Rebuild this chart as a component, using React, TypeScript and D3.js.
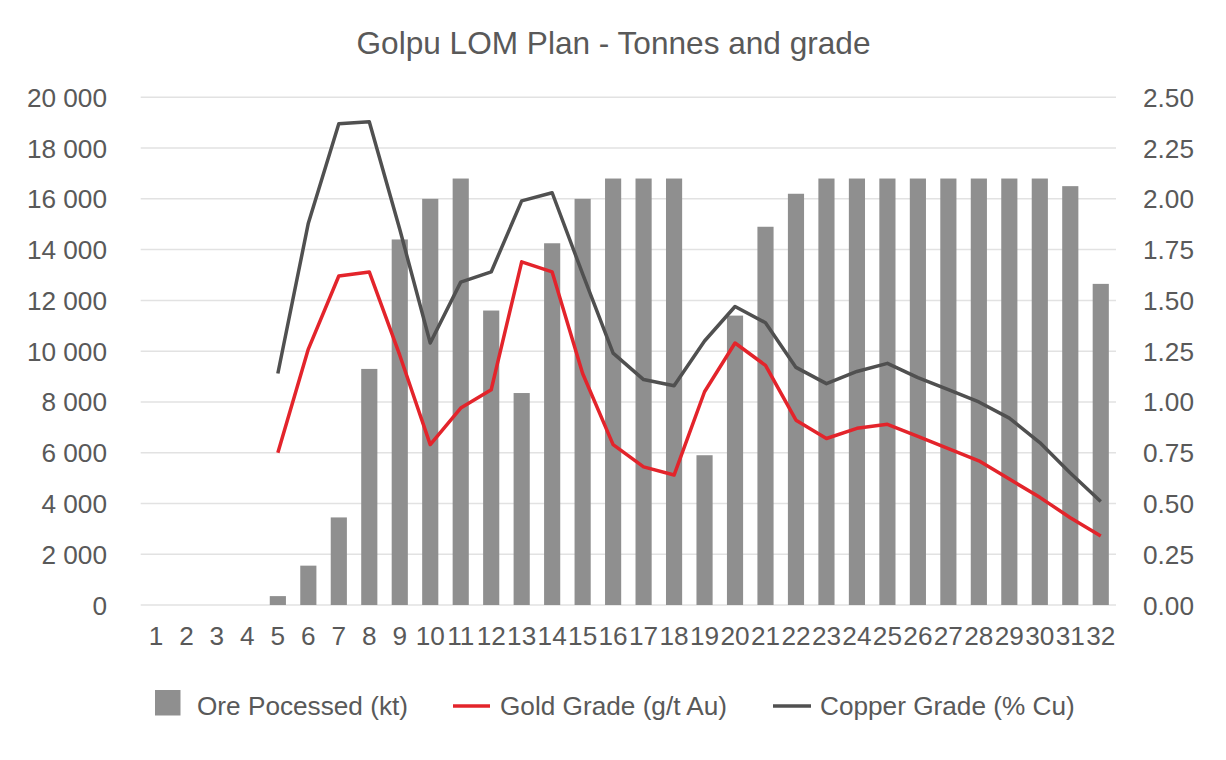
import React from "react";
import * as d3 from "d3";

const categories = Array.from({ length: 32 }, (_, i) => String(i + 1));
const ore = [0, 0, 0, 0, 350, 1550, 3450, 9300, 14400, 16000, 16800, 11600, 8350, 14250, 16000, 16800, 16800, 16800, 5900, 11400, 14900, 16200, 16800, 16800, 16800, 16800, 16800, 16800, 16800, 16800, 16500, 12650];
const gold: (number | null)[] = [null, null, null, null, 0.75, 1.26, 1.62, 1.64, 1.23, 0.79, 0.97, 1.06, 1.69, 1.64, 1.14, 0.79, 0.68, 0.64, 1.05, 1.29, 1.18, 0.91, 0.82, 0.87, 0.89, 0.83, 0.77, 0.71, 0.62, 0.53, 0.43, 0.34];
const copper: (number | null)[] = [null, null, null, null, 1.14, 1.88, 2.37, 2.38, 1.85, 1.29, 1.59, 1.64, 1.99, 2.03, 1.63, 1.24, 1.11, 1.08, 1.30, 1.47, 1.39, 1.17, 1.09, 1.15, 1.19, 1.12, 1.06, 1.00, 0.92, 0.80, 0.65, 0.51];
const leftTicks = [0, 2000, 4000, 6000, 8000, 10000, 12000, 14000, 16000, 18000, 20000];
const rightTicks = [0, 0.25, 0.5, 0.75, 1.0, 1.25, 1.5, 1.75, 2.0, 2.25, 2.5];
const title = "Golpu LOM Plan - Tonnes and grade";
const seriesNames = ["Ore Pocessed (kt)", "Gold Grade (g/t Au)", "Copper Grade (% Cu)"];

const W = 1226, H = 760;
const left = 140.7, right = 1116, top = 97.3, bottom = 605;
const TXT = "#595959";
const BAR = "#8f8f8f";
const RED = "#e3242b";
const DARK = "#505050";
const FONT = "'Liberation Sans', Arial, sans-serif";
const FS = 26.2;

export default function App() {
  const x = d3.scaleBand<string>().domain(categories).range([left, right]).paddingInner(0.47).paddingOuter(0.235);
  const yL = d3.scaleLinear().domain([0, 20000]).range([bottom, top]);
  const yR = d3.scaleLinear().domain([0, 2.5]).range([bottom, top]);
  const cx = (i: number) => (x(categories[i]) as number) + x.bandwidth() / 2;
  const fmtL = (v: number) => d3.format(",")(v).replace(/,/g, " ");
  const line = d3.line<number | null>()
    .defined((d) => d != null)
    .x((_, i) => cx(i))
    .y((d) => yR(d as number));

  return (
    <div style={{ position: "absolute", left: 0, top: 0 }}>
      <svg width={W} height={H} style={{ display: "block", background: "#fff" }} fontFamily={FONT}>
        <rect width={W} height={H} fill="#fff" />
        <text x={613.5} y={54} textAnchor="middle" fontSize={31.6} fill={TXT}>{title}</text>
        {leftTicks.map((t) => (
          <line key={"g" + t} x1={left} x2={right} y1={yL(t)} y2={yL(t)} stroke="#e2e2e2" strokeWidth={1.5} />
        ))}
        {leftTicks.map((t) => (
          <text key={"l" + t} x={107} y={yL(t) + 9.5} textAnchor="end" fontSize={FS} fill={TXT}>{fmtL(t)}</text>
        ))}
        {rightTicks.map((t) => (
          <text key={"r" + t} x={1143} y={yR(t) + 9.5} textAnchor="start" fontSize={FS} fill={TXT}>{t.toFixed(2)}</text>
        ))}
        {ore.map((v, i) => (
          <rect key={"b" + i} x={x(categories[i])} y={yL(v)} width={x.bandwidth()} height={bottom - yL(v)} fill={BAR} />
        ))}
        {categories.map((c, i) => (
          <text key={"x" + c} x={cx(i)} y={645} textAnchor="middle" fontSize={FS} fill={TXT}>{c}</text>
        ))}
        <path d={line(copper) || ""} fill="none" stroke={DARK} strokeWidth={3.5} strokeLinejoin="round" />
        <path d={line(gold) || ""} fill="none" stroke={RED} strokeWidth={3.5} strokeLinejoin="round" />
        <g>
          <rect x={155} y={690} width={25.5} height={25.5} fill={BAR} />
          <text x={197} y={714.5} fontSize={FS} fill={TXT}>{seriesNames[0]}</text>
          <line x1={453} x2={490} y1={706} y2={706} stroke={RED} strokeWidth={3.5} />
          <text x={500} y={714.5} fontSize={FS} fill={TXT}>{seriesNames[1]}</text>
          <line x1={773} x2={811} y1={706} y2={706} stroke={DARK} strokeWidth={3.5} />
          <text x={820} y={714.5} fontSize={FS} fill={TXT}>{seriesNames[2]}</text>
        </g>
      </svg>
    </div>
  );
}
